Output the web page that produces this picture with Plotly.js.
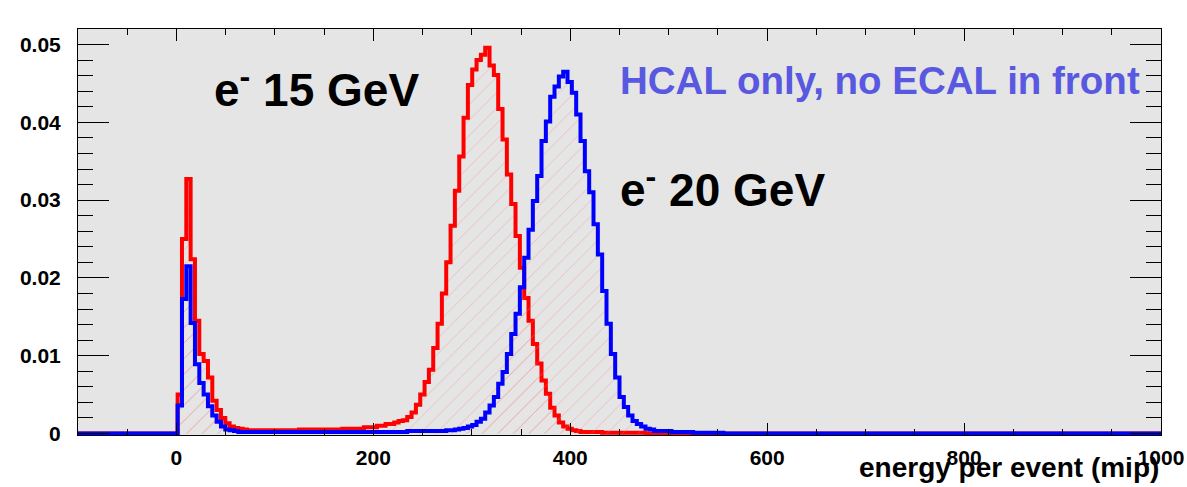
<!DOCTYPE html>
<html>
<head>
<meta charset="utf-8">
<script src="https://cdn.plot.ly/plotly-3.0.1.min.js"></script>
<style>
html,body{margin:0;padding:0;background:#ffffff;}
#chart{width:1187px;height:487px;}
</style>
</head>
<body>
<div id="chart"></div>
<script>
// Histogram binning: 250 bins from -100 to 1000 mip
const binLow = -100;
const binHigh = 1000;
const binWidth = 4.4;
const firstBin = 22;   // values below start at this bin index; all other bins are empty

// e- 15 GeV (red), normalised entries per bin
const red15GeV = [
  0, 0.0050, 0.0250, 0.0327, 0.0224, 0.0145, 0.0102, 0.0093, 0.0072, 0.0042,
  0.0030, 0.0020, 0.0013, 0.0009, 0.0007, 0.0006, 0.0005,
  0.0004, 0.0004, 0.0004, 0.0004, 0.0004, 0.0004, 0.0004, 0.0004, 0.0004, 0.0004, 0.0004, 0.0004,
  0.0005, 0.0005, 0.0005, 0.0005, 0.0005, 0.0005, 0.0005, 0.0005, 0.0005, 0.0005,
  0.0006, 0.0006, 0.0006, 0.0006, 0.0006,
  0.0008, 0.0008, 0.0008, 0.0010, 0.0010, 0.0012, 0.0012, 0.0014, 0.0016,
  0.0017, 0.0021, 0.0027, 0.0037, 0.0050, 0.0066, 0.0082, 0.0110, 0.0141, 0.0180,
  0.0220, 0.0267, 0.0312, 0.0356, 0.0406, 0.0448, 0.0468, 0.0480, 0.0487, 0.0496,
  0.0473, 0.0461, 0.0417, 0.0378, 0.0333, 0.0295, 0.0254, 0.0213, 0.0174, 0.0145,
  0.0115, 0.0090, 0.0068, 0.0051, 0.0033, 0.0023, 0.0014,
  0.0009, 0.0006, 0.0004, 0.0003, 0.0002, 0.0002, 0.0002, 0.0002, 0.0002,
  0.0001, 0.0001, 0.0001, 0.0001, 0.0001, 0.0001, 0.0001, 0.0001, 0.0001, 0.0001,
  0
];

// e- 20 GeV (blue)
const blue20GeV = [
  0, 0.0036, 0.0173, 0.0215, 0.0142, 0.0089, 0.0065, 0.0050, 0.0035, 0.0023,
  0.0015, 0.0009, 0.0005, 0.0004, 0.0003,
  0.0002, 0.0002, 0.0002, 0.0002, 0.0002, 0.0002, 0.0002, 0.0002, 0.0002, 0.0002,
  0.0002, 0.0002, 0.0002, 0.0002, 0.0002, 0.0002, 0.0002, 0.0002, 0.0002, 0.0002,
  0.0002, 0.0002, 0.0002, 0.0002, 0.0002, 0.0002, 0.0002, 0.0002, 0.0002, 0.0002,
  0.0002, 0.0002, 0.0002, 0.0002, 0.0002, 0.0002, 0.0002, 0.0002, 0.0002,
  0.0003, 0.0003, 0.0003, 0.0003, 0.0003, 0.0003, 0.0003, 0.0003, 0.0003,
  0.0004, 0.0004, 0.0005, 0.0006, 0.0007, 0.0009, 0.0011, 0.0015, 0.0019, 0.0027,
  0.0036, 0.0047, 0.0064, 0.0079, 0.0102, 0.0128, 0.0154, 0.0188, 0.0226, 0.0262,
  0.0299, 0.0331, 0.0376, 0.0401, 0.0433, 0.0446, 0.0459, 0.0465,
  0.0452, 0.0438, 0.0410, 0.0376, 0.0337, 0.0310, 0.0269, 0.0230, 0.0183, 0.0141,
  0.0102, 0.0072, 0.0047, 0.0034, 0.0023, 0.0016, 0.0012, 0.0009, 0.0006, 0.0005,
  0.0003, 0.0003, 0.0003, 0.0003,
  0.0002, 0.0002, 0.0002, 0.0002, 0.0002,
  0.0001, 0.0001, 0.0001, 0.0001, 0.0001, 0.0001, 0.0001,
  0
];

const xTickVals = [0, 200, 400, 600, 800, 1000];
const xTickText = ['0', '200', '400', '600', '800', '1000'];
const yTickVals = [0, 0.01, 0.02, 0.03, 0.04, 0.05];
const yTickText = ['0', '0.01', '0.02', '0.03', '0.04', '0.05'];

const label15 = 'e<sup>-</sup> 15 GeV';
const label20 = 'e<sup>-</sup> 20 GeV';
const labelNote = 'HCAL only, no ECAL in front';
const xTitle = 'energy per event (mip)';

function stepPath(vals) {
  const xs = [binLow], ys = [0];
  for (let i = 0; i < vals.length; i++) {
    xs.push(binLow + (firstBin + i) * binWidth);
    ys.push(vals[i]);
  }
  xs.push(binLow + (firstBin + vals.length) * binWidth);
  ys.push(0);
  xs.push(binHigh);
  ys.push(0);
  return {xs, ys};
}

const hatch = {shape: '/', fgcolor: 'rgba(240,135,135,0.45)', bgcolor: 'rgba(0,0,0,0)', size: 11, solidity: 0.08};
const FONT = '"Liberation Sans", Arial, Helvetica, sans-serif';

const r = stepPath(red15GeV);
const b = stepPath(blue20GeV);

const traces = [
  {x: r.xs, y: r.ys, type: 'scatter', mode: 'lines', line: {shape: 'hv', color: '#ff0000', width: 4},
   fill: 'tozeroy', fillcolor: 'rgba(0,0,0,0)', fillpattern: hatch, hoverinfo: 'skip', showlegend: false},
  {x: b.xs, y: b.ys, type: 'scatter', mode: 'lines', line: {shape: 'hv', color: '#0000ff', width: 4},
   fill: 'tozeroy', fillcolor: 'rgba(0,0,0,0)', fillpattern: hatch, hoverinfo: 'skip', showlegend: false}
];

const layout = {
  width: 1187, height: 487,
  margin: {l: 78, r: 26, t: 29, b: 52, autoexpand: false},
  paper_bgcolor: '#ffffff',
  plot_bgcolor: '#e5e5e5',
  showlegend: false,
  font: {family: FONT, color: '#000000'},
  xaxis: {
    range: [binLow, binHigh], showgrid: false, zeroline: false,
    showline: true, linecolor: '#000000', linewidth: 1, mirror: 'ticks',
    ticks: 'inside', ticklen: 12, tickwidth: 1, tickcolor: '#000000',
    tickvals: xTickVals, ticktext: xTickText,
    tickfont: {family: FONT, size: 21, weight: 'bold', color: '#000000'},
    ticklabelstandoff: 4,
    minor: {dtick: 50, tick0: 0, ticks: 'inside', ticklen: 6, tickwidth: 1, tickcolor: '#000000', showgrid: false}
  },
  yaxis: {
    range: [-0.0002, 0.052], showgrid: false, zeroline: false,
    showline: true, linecolor: '#000000', linewidth: 1, mirror: 'ticks',
    ticks: 'inside', ticklen: 31, tickwidth: 1, tickcolor: '#000000',
    tickvals: yTickVals, ticktext: yTickText,
    tickfont: {family: FONT, size: 21, weight: 'bold', color: '#000000'},
    ticklabelstandoff: 12,
    minor: {dtick: 0.002, tick0: 0, ticks: 'inside', ticklen: 15, tickwidth: 1, tickcolor: '#000000', showgrid: false}
  },
  annotations: [
    {text: label15, xref: 'paper', yref: 'paper', x: 0.124, y: 0.857, xanchor: 'left', yanchor: 'middle',
     showarrow: false, font: {family: FONT, size: 46, weight: 'bold', color: '#000000'}},
    {text: label20, xref: 'paper', yref: 'paper', x: 0.499, y: 0.611, xanchor: 'left', yanchor: 'middle',
     showarrow: false, font: {family: FONT, size: 46, weight: 'bold', color: '#000000'}},
    {text: labelNote, xref: 'paper', yref: 'paper', x: 0.499, y: 0.874, xanchor: 'left', yanchor: 'middle',
     showarrow: false, font: {family: FONT, size: 38.5, weight: 'bold', color: '#5858e0'}},
    {text: xTitle, xref: 'paper', yref: 'paper', x: 1.0, y: -0.079, xanchor: 'right', yanchor: 'middle',
     showarrow: false, font: {family: FONT, size: 28, weight: 'bold', color: '#000000'}}
  ]
};

Plotly.newPlot('chart', traces, layout, {staticPlot: true, displayModeBar: false});
</script>
</body>
</html>
